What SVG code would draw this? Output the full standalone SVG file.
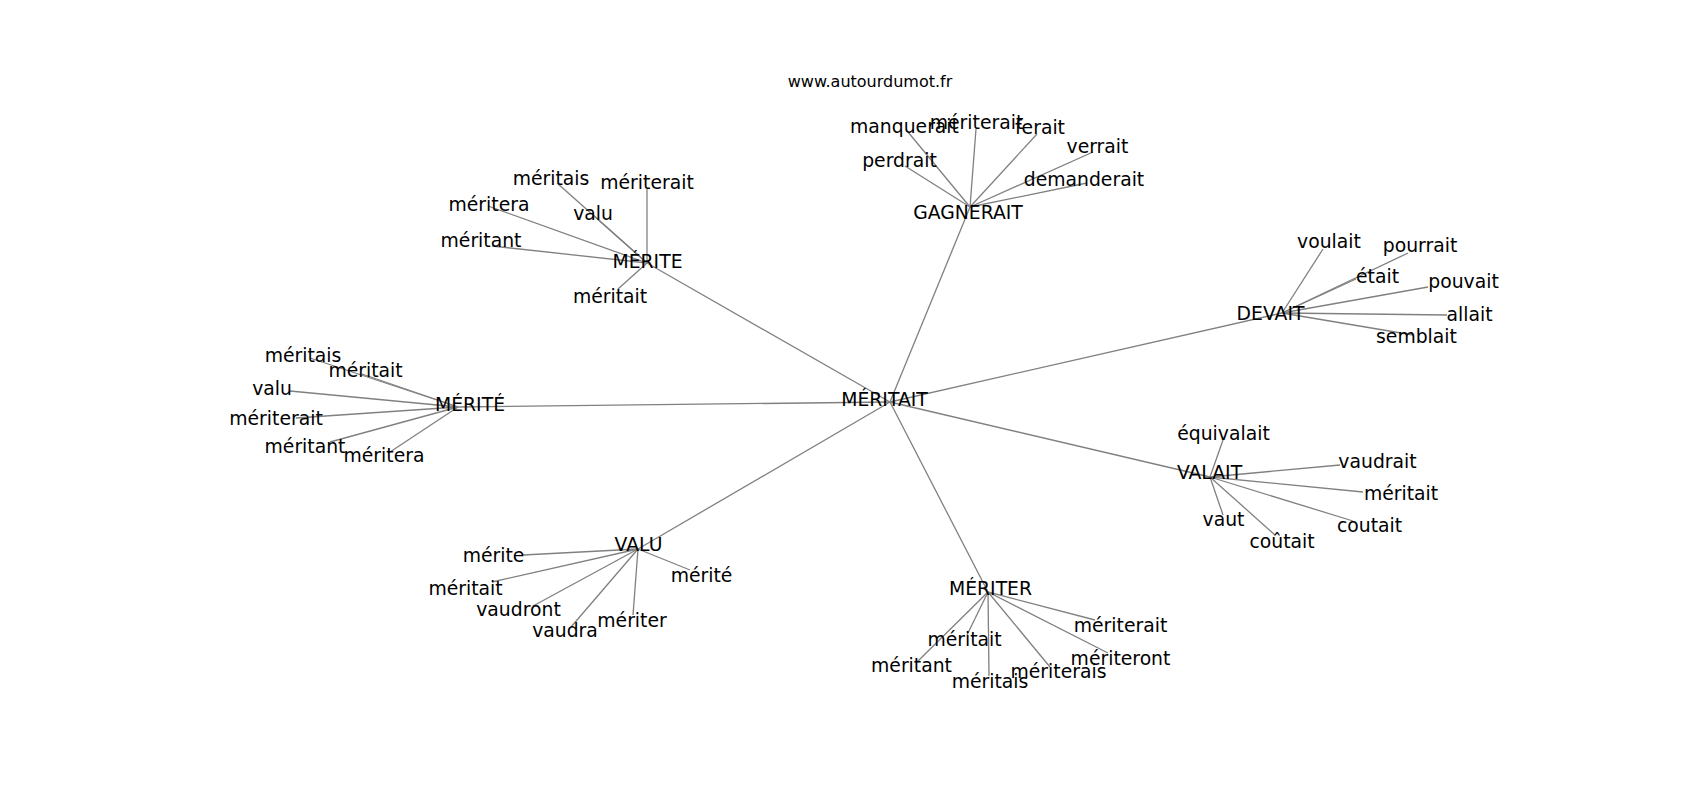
<svg xmlns="http://www.w3.org/2000/svg" width="1700" height="800" viewBox="0 0 1700 800">
<style>
.e{stroke:#808080;stroke-width:1.3;fill:none}
text{font-family:"DejaVu Sans","Liberation Sans",sans-serif;fill:#000;text-anchor:middle}
.n{font-size:18.8px}
.t{font-size:16px}
</style>
<rect width="1700" height="800" fill="#fff"/>
<g id="connectors">
<line class="e" x1="890" y1="402" x2="647" y2="263"/>
<line class="e" x1="890" y1="402" x2="970" y2="207"/>
<line class="e" x1="890" y1="402" x2="1282" y2="313"/>
<line class="e" x1="890" y1="402" x2="1210" y2="477"/>
<line class="e" x1="890" y1="402" x2="988" y2="592"/>
<line class="e" x1="890" y1="402" x2="638" y2="549"/>
<line class="e" x1="890" y1="402" x2="458" y2="407"/>
<line class="e" x1="647" y1="263" x2="557" y2="183"/>
<line class="e" x1="647" y1="263" x2="647" y2="189"/>
<line class="e" x1="647" y1="263" x2="488" y2="206"/>
<line class="e" x1="647" y1="263" x2="593" y2="215"/>
<line class="e" x1="647" y1="263" x2="492" y2="246"/>
<line class="e" x1="647" y1="263" x2="618" y2="289"/>
<line class="e" x1="970" y1="207" x2="908" y2="132"/>
<line class="e" x1="970" y1="207" x2="976" y2="129"/>
<line class="e" x1="970" y1="207" x2="1037" y2="134"/>
<line class="e" x1="970" y1="207" x2="1093" y2="152"/>
<line class="e" x1="970" y1="207" x2="905" y2="166"/>
<line class="e" x1="970" y1="207" x2="1087" y2="183"/>
<line class="e" x1="458" y1="407" x2="310" y2="358"/>
<line class="e" x1="458" y1="407" x2="362" y2="374"/>
<line class="e" x1="458" y1="407" x2="290" y2="391"/>
<line class="e" x1="458" y1="407" x2="296" y2="418"/>
<line class="e" x1="458" y1="407" x2="330" y2="442"/>
<line class="e" x1="458" y1="407" x2="390" y2="452"/>
<line class="e" x1="1282" y1="313" x2="1323" y2="249"/>
<line class="e" x1="1282" y1="313" x2="1408" y2="253"/>
<line class="e" x1="1282" y1="313" x2="1356" y2="279"/>
<line class="e" x1="1282" y1="313" x2="1428" y2="287"/>
<line class="e" x1="1282" y1="313" x2="1447" y2="315"/>
<line class="e" x1="1282" y1="313" x2="1413" y2="335"/>
<line class="e" x1="1210" y1="477" x2="1223" y2="440"/>
<line class="e" x1="1210" y1="477" x2="1340" y2="465"/>
<line class="e" x1="1210" y1="477" x2="1363" y2="492"/>
<line class="e" x1="1210" y1="477" x2="1353" y2="521"/>
<line class="e" x1="1210" y1="477" x2="1223" y2="515"/>
<line class="e" x1="1210" y1="477" x2="1275" y2="535"/>
<line class="e" x1="988" y1="592" x2="1095" y2="620"/>
<line class="e" x1="988" y1="592" x2="967" y2="635"/>
<line class="e" x1="988" y1="592" x2="917" y2="662"/>
<line class="e" x1="988" y1="592" x2="989" y2="676"/>
<line class="e" x1="988" y1="592" x2="1050" y2="667"/>
<line class="e" x1="988" y1="592" x2="1108" y2="653"/>
<line class="e" x1="638" y1="549" x2="523" y2="555"/>
<line class="e" x1="638" y1="549" x2="492" y2="582"/>
<line class="e" x1="638" y1="549" x2="533" y2="606"/>
<line class="e" x1="638" y1="549" x2="571" y2="627"/>
<line class="e" x1="638" y1="549" x2="633" y2="615"/>
<line class="e" x1="638" y1="549" x2="690" y2="570"/>
</g>
<g id="title"><text class="t" x="870" y="87">www.autourdumot.fr</text></g>
<g id="n-meritait"><text class="n" x="884.5" y="406">MÉRITAIT</text></g>
<g id="n-merite"><text class="n" x="647.5" y="268">MÉRITE</text></g>
<g id="n-merite-meritais"><text class="n" x="551" y="185">méritais</text></g>
<g id="n-merite-meriterait"><text class="n" x="647" y="189">mériterait</text></g>
<g id="n-merite-meritera"><text class="n" x="489" y="211">méritera</text></g>
<g id="n-merite-valu"><text class="n" x="593" y="220">valu</text></g>
<g id="n-merite-meritant"><text class="n" x="481" y="247">méritant</text></g>
<g id="n-merite-meritait"><text class="n" x="610" y="303">méritait</text></g>
<g id="n-gagnerait"><text class="n" x="968" y="219">GAGNERAIT</text></g>
<g id="n-gag-manquerait"><text class="n" x="904.5" y="133">manquerait</text></g>
<g id="n-gag-meriterait"><text class="n" x="976.5" y="129">mériterait</text></g>
<g id="n-gag-ferait"><text class="n" x="1040" y="134">ferait</text></g>
<g id="n-gag-verrait"><text class="n" x="1097.5" y="153">verrait</text></g>
<g id="n-gag-perdrait"><text class="n" x="899.5" y="167">perdrait</text></g>
<g id="n-gag-demanderait"><text class="n" x="1084" y="186">demanderait</text></g>
<g id="n-merite2"><text class="n" x="470" y="411">MÉRITÉ</text></g>
<g id="n-m2-meritais"><text class="n" x="303" y="362">méritais</text></g>
<g id="n-m2-meritait"><text class="n" x="365.5" y="377">méritait</text></g>
<g id="n-m2-valu"><text class="n" x="272" y="395">valu</text></g>
<g id="n-m2-meriterait"><text class="n" x="276" y="425">mériterait</text></g>
<g id="n-m2-meritant"><text class="n" x="305" y="453">méritant</text></g>
<g id="n-m2-meritera"><text class="n" x="384" y="462">méritera</text></g>
<g id="n-devait"><text class="n" x="1270.5" y="320">DEVAIT</text></g>
<g id="n-dev-voulait"><text class="n" x="1329" y="248">voulait</text></g>
<g id="n-dev-pourrait"><text class="n" x="1420" y="252">pourrait</text></g>
<g id="n-dev-etait"><text class="n" x="1377.5" y="283">était</text></g>
<g id="n-dev-pouvait"><text class="n" x="1463.5" y="288">pouvait</text></g>
<g id="n-dev-allait"><text class="n" x="1469.5" y="321">allait</text></g>
<g id="n-dev-semblait"><text class="n" x="1416.5" y="343">semblait</text></g>
<g id="n-valait"><text class="n" x="1209.5" y="479">VALAIT</text></g>
<g id="n-val-equivalait"><text class="n" x="1223.5" y="440">équivalait</text></g>
<g id="n-val-vaudrait"><text class="n" x="1377.5" y="468">vaudrait</text></g>
<g id="n-val-meritait"><text class="n" x="1401" y="500">méritait</text></g>
<g id="n-val-coutait"><text class="n" x="1369.5" y="532">coutait</text></g>
<g id="n-val-vaut"><text class="n" x="1223.5" y="526">vaut</text></g>
<g id="n-val-coutait2"><text class="n" x="1282" y="548">coûtait</text></g>
<g id="n-meriter"><text class="n" x="990.5" y="595">MÉRITER</text></g>
<g id="n-mer-meriterait"><text class="n" x="1120.5" y="632">mériterait</text></g>
<g id="n-mer-meritait"><text class="n" x="964.5" y="646">méritait</text></g>
<g id="n-mer-meritant"><text class="n" x="911.5" y="672">méritant</text></g>
<g id="n-mer-meritais"><text class="n" x="990" y="688">méritais</text></g>
<g id="n-mer-meriterais"><text class="n" x="1058.5" y="678">mériterais</text></g>
<g id="n-mer-meriteront"><text class="n" x="1120.5" y="665">mériteront</text></g>
<g id="n-valu"><text class="n" x="638.5" y="551">VALU</text></g>
<g id="n-valu-merite"><text class="n" x="493.5" y="562">mérite</text></g>
<g id="n-valu-meritait"><text class="n" x="465.5" y="595">méritait</text></g>
<g id="n-valu-vaudront"><text class="n" x="518.5" y="616">vaudront</text></g>
<g id="n-valu-vaudra"><text class="n" x="565" y="637">vaudra</text></g>
<g id="n-valu-meriter"><text class="n" x="632" y="627">mériter</text></g>
<g id="n-valu-merite2"><text class="n" x="701.5" y="582">mérité</text></g>
</svg>
